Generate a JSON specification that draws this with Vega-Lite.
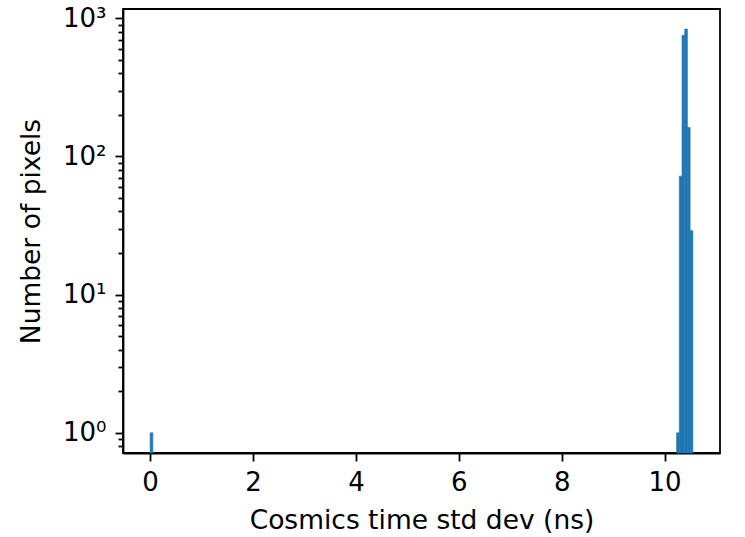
{
  "$schema": "https://vega.github.io/schema/vega-lite/v6.json",
  "width": 597,
  "height": 444,
  "autosize": {"type": "none"},
  "padding": {"left": 123, "top": 9, "right": 25, "bottom": 84},
  "background": "white",
  "config": {
    "font": "DejaVu Sans",
    "view": {"stroke": "black", "strokeWidth": 1.8},
    "axis": {
      "domainColor": "black",
      "domainWidth": 1.8,
      "tickColor": "black",
      "tickWidth": 1.8,
      "grid": false,
      "labelFont": "DejaVu Sans",
      "titleFont": "DejaVu Sans",
      "labelFontSize": 26,
      "titleFontSize": 26.5,
      "titleFontWeight": "normal",
      "labelColor": "black",
      "titleColor": "black"
    }
  },
  "data": {
    "values": [
      {"bin_start": 0.0, "bin_end": 0.05275, "count": 1},
      {"bin_start": 10.23350, "bin_end": 10.28625, "count": 1},
      {"bin_start": 10.28625, "bin_end": 10.33900, "count": 72},
      {"bin_start": 10.33900, "bin_end": 10.39175, "count": 752},
      {"bin_start": 10.39175, "bin_end": 10.44450, "count": 835},
      {"bin_start": 10.44450, "bin_end": 10.49725, "count": 162},
      {"bin_start": 10.49725, "bin_end": 10.55000, "count": 29}
    ]
  },
  "mark": {"type": "bar", "color": "#1f77b4", "stroke": "#1f77b4", "strokeWidth": 0.6},
  "encoding": {
    "x": {
      "field": "bin_start",
      "type": "quantitative",
      "scale": {"domain": [-0.5275, 11.0775], "nice": false, "zero": false},
      "axis": {
        "title": "Cosmics time std dev (ns)",
        "values": [0, 2, 4, 6, 8, 10],
        "tickSize": 8,
        "labelPadding": 8,
        "titlePadding": 12,
        "labelFlush": false,
        "labelOverlap": false
      }
    },
    "x2": {"field": "bin_end"},
    "y": {
      "field": "count",
      "type": "quantitative",
      "scale": {"type": "log", "domain": [0.714, 1167], "nice": false, "clamp": true},
      "axis": {
        "title": "Number of pixels",
        "values": [0.8, 0.9, 1, 2, 3, 4, 5, 6, 7, 8, 9, 10, 20, 30, 40, 50, 60, 70, 80, 90, 100, 200, 300, 400, 500, 600, 700, 800, 900, 1000],
        "labelExpr": "indexof([1,10,100,1000], datum.value) >= 0 ? '10' + ['⁰','¹','²','³'][round(log(datum.value)/LN10)] : ''",
        "tickSize": {"condition": {"test": "indexof([1,10,100,1000], datum.value) < 0", "value": 5}, "value": 8},
        "labelPadding": 9,
        "titlePadding": 17,
        "labelOverlap": false,
        "labelFlush": false
      }
    },
    "y2": {"datum": 0.714}
  }
}
